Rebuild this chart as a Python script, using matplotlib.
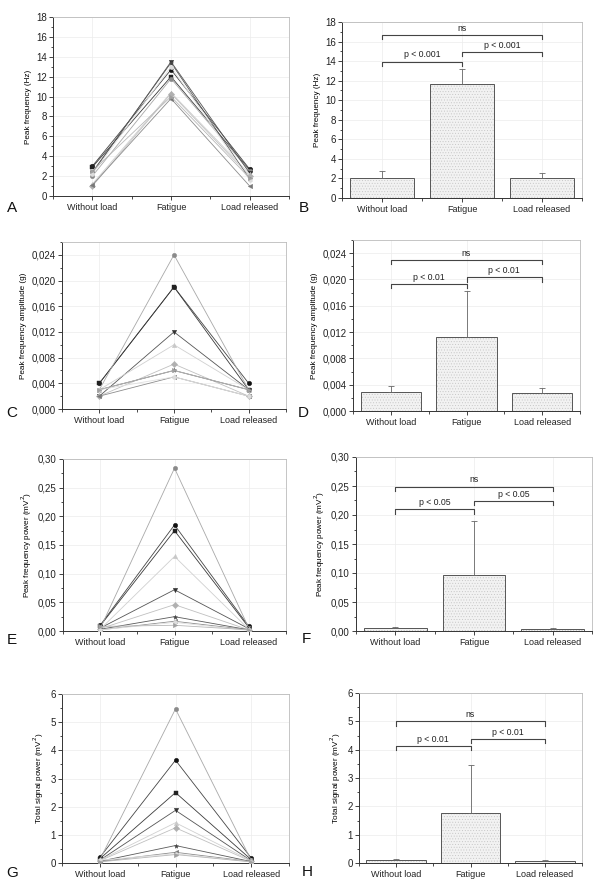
import matplotlib
matplotlib.use("Agg")
import matplotlib.pyplot as plt
import numpy as np
from matplotlib.ticker import FuncFormatter, MultipleLocator

plt.rcParams["font.family"] = ["Liberation Sans", "DejaVu Sans"]
plt.rcParams["hatch.linewidth"] = 0.35

# %%
# Data (one row per subject)
conditions = ["Without load", "Fatigue", "Load released"]

freq_lines = [
    [3.0, 12.7, 2.7],
    [2.9, 12.0, 2.6],
    [2.0, 11.8, 2.5],
    [2.3, 13.5, 2.3],
    [1.2, 10.4, 2.2],
    [1.0, 10.3, 2.0],
    [2.4, 13.4, 1.7],
    [1.1, 9.8, 1.0],
    [2.2, 13.0, 1.6],
    [2.5, 10.0, 1.8],
]
amp_lines = [
    [0.004, 0.019, 0.004],
    [0.004, 0.019, 0.003],
    [0.003, 0.024, 0.003],
    [0.002, 0.012, 0.003],
    [0.003, 0.010, 0.003],
    [0.002, 0.007, 0.002],
    [0.003, 0.006, 0.003],
    [0.002, 0.005, 0.002],
    [0.003, 0.005, 0.002],
    [0.003, 0.006, 0.003],
]
power_lines = [
    [0.010, 0.185, 0.008],
    [0.009, 0.175, 0.006],
    [0.004, 0.284, 0.005],
    [0.005, 0.072, 0.004],
    [0.003, 0.130, 0.003],
    [0.004, 0.046, 0.002],
    [0.003, 0.025, 0.002],
    [0.002, 0.017, 0.002],
    [0.002, 0.015, 0.001],
    [0.008, 0.010, 0.002],
]
total_lines = [
    [0.20, 3.65, 0.18],
    [0.15, 2.50, 0.12],
    [0.12, 5.47, 0.10],
    [0.10, 1.87, 0.08],
    [0.10, 1.43, 0.08],
    [0.08, 1.25, 0.06],
    [0.06, 0.62, 0.05],
    [0.05, 0.38, 0.05],
    [0.10, 0.33, 0.04],
    [0.04, 0.30, 0.04],
]

freq_mean = [2.05, 11.7, 2.0]
freq_sd = [0.75, 1.5, 0.55]
amp_mean = [0.0029, 0.0113, 0.0028]
amp_sd = [0.0009, 0.0070, 0.0007]
power_mean = [0.0052, 0.0959, 0.0035]
power_sd = [0.0017, 0.0938, 0.0017]
total_mean = [0.10, 1.78, 0.08]
total_sd = [0.04, 1.68, 0.025]

# bracket levels: (left pair, right pair, ns) and labels
freq_brackets = [13.95, 14.97, 16.67]
amp_brackets = [0.0193, 0.0203, 0.0230]
power_brackets = [0.210, 0.224, 0.249]
total_brackets = [4.14, 4.38, 5.0]

freq_p = "p < 0.001"
amp_p = "p < 0.01"
power_p = "p < 0.05"
total_p = "p < 0.01"

# %%
# Styling helpers
markers = ["o", "s", "o", "v", "^", "D", "*", "<", "h", ">"]
colors = ["#111111", "#222222", "#8a8a8a", "#333333", "#c8c8c8",
          "#b0b0b0", "#444444", "#777777", "#dcdcdc", "#a0a0a0"]
line_colors = ["#444444", "#3a3a3a", "#a8a8a8", "#555555", "#d0d0d0",
               "#c0c0c0", "#5a5a5a", "#8c8c8c", "#e0e0e0", "#b8b8b8"]

W, H = 600, 888


def rect(x0, y0, x1, y1):
    return [x0 / W, 1 - y1 / H, (x1 - x0) / W, (y1 - y0) / H]


def comma_fmt(decimals):
    return FuncFormatter(lambda v, p: f"{v:.{decimals}f}".replace(".", ","))


def style_axes(ax, ymax, ystep, decimals, ylabel):
    ax.set_xlim(-0.5, 2.5)
    ax.set_ylim(0, ymax)
    ax.set_xticks(range(3))
    ax.set_xticklabels(conditions, fontsize=6.5)
    ax.xaxis.set_minor_locator(MultipleLocator(0.5))
    ax.yaxis.set_major_locator(MultipleLocator(ystep))
    ax.yaxis.set_minor_locator(MultipleLocator(ystep / 2))
    ax.yaxis.set_major_formatter(comma_fmt(decimals))
    ax.tick_params(axis="y", labelsize=7, length=3, width=0.6, colors="#222222", pad=1.5)
    ax.tick_params(axis="x", length=3, width=0.6, colors="#222222", pad=2)
    ax.tick_params(which="minor", length=1.8, width=0.5)
    ax.set_ylabel(ylabel, fontsize=5.9, labelpad=3)
    for side in ("left", "bottom"):
        ax.spines[side].set_color("#333333")
        ax.spines[side].set_linewidth(0.7)
    for side in ("top", "right"):
        ax.spines[side].set_color("#bbbbbb")
        ax.spines[side].set_linewidth(0.6)
    ax.grid(True, color="#ececec", lw=0.5)
    ax.set_axisbelow(True)


def line_panel(ax, rows):
    x = np.arange(3)
    for i, row in enumerate(rows):
        ax.plot(x, row, color=line_colors[i], lw=0.6, marker=markers[i],
                ms=3.2, mfc=colors[i], mec=colors[i], mew=0.3, zorder=3)


def bar_panel(ax, means, sds, levels, ptext):
    x = np.arange(3)
    ax.bar(x, means, width=0.8, color="#f2f2f2", edgecolor="#c4c4c4",
           hatch="......", lw=0, zorder=2)
    ax.bar(x, means, width=0.8, fill=False, edgecolor="#555555", lw=0.7, zorder=3)
    ax.errorbar(x, means, yerr=[np.zeros(3), sds], fmt="none", ecolor="#666666",
                elinewidth=0.6, capsize=2, capthick=0.6, zorder=4)
    span = ax.get_ylim()[1]
    drop = span * 0.025
    pairs = [(0, 1, ptext), (1, 2, ptext), (0, 2, "ns")]
    for (a, b, label), y in zip(pairs, levels):
        ax.plot([a, a, b, b], [y - drop, y, y, y - drop], color="#444444",
                lw=0.8, zorder=5)
        ax.text((a + b) / 2, y + span * 0.012, label, ha="center", va="bottom",
                fontsize=6.3, color="#222222")


fig = plt.figure(figsize=(6, 8.88), dpi=100)

panels = [
    ("A", rect(53, 17, 289, 196), "line", freq_lines, 18, 2, 0, "Peak frequency (Hz)"),
    ("B", rect(342, 22, 582, 198), "bar", (freq_mean, freq_sd, freq_brackets, freq_p),
     18, 2, 0, "Peak frequency (Hz)"),
    ("C", rect(62, 242, 286, 409), "line", amp_lines, 0.026, 0.004, 3,
     "Peak frequency amplitude (g)"),
    ("D", rect(353, 240, 580, 411), "bar", (amp_mean, amp_sd, amp_brackets, amp_p),
     0.026, 0.004, 3, "Peak frequency amplitude (g)"),
    ("E", rect(63, 459, 286, 631), "line", power_lines, 0.30, 0.05, 2,
     "Peak frequency power (mV$^2$)"),
    ("F", rect(356, 457, 592, 631), "bar", (power_mean, power_sd, power_brackets, power_p),
     0.30, 0.05, 2, "Peak frequency power (mV$^2$)"),
    ("G", rect(62, 694, 289, 863), "line", total_lines, 6, 1, 0,
     "Total signal power (mV$^2$)"),
    ("H", rect(359, 693, 582, 863), "bar", (total_mean, total_sd, total_brackets, total_p),
     6, 1, 0, "Total signal power (mV$^2$)"),
]

letter_pos = {"A": (12, 208), "B": (304, 208), "C": (12, 413), "D": (303, 413),
              "E": (12, 640), "F": (306, 639), "G": (12, 873), "H": (307, 872)}

for letter, r, kind, data, ymax, ystep, dec, ylabel in panels:
    ax = fig.add_axes(r)
    style_axes(ax, ymax, ystep, dec, ylabel)
    if kind == "line":
        line_panel(ax, data)
    else:
        bar_panel(ax, *data)
    lx, ly = letter_pos[letter]
    fig.text(lx / W, 1 - ly / H, letter, fontsize=11, ha="center", va="center",
             color="#111111")

fig.savefig("out.png", dpi=100)
